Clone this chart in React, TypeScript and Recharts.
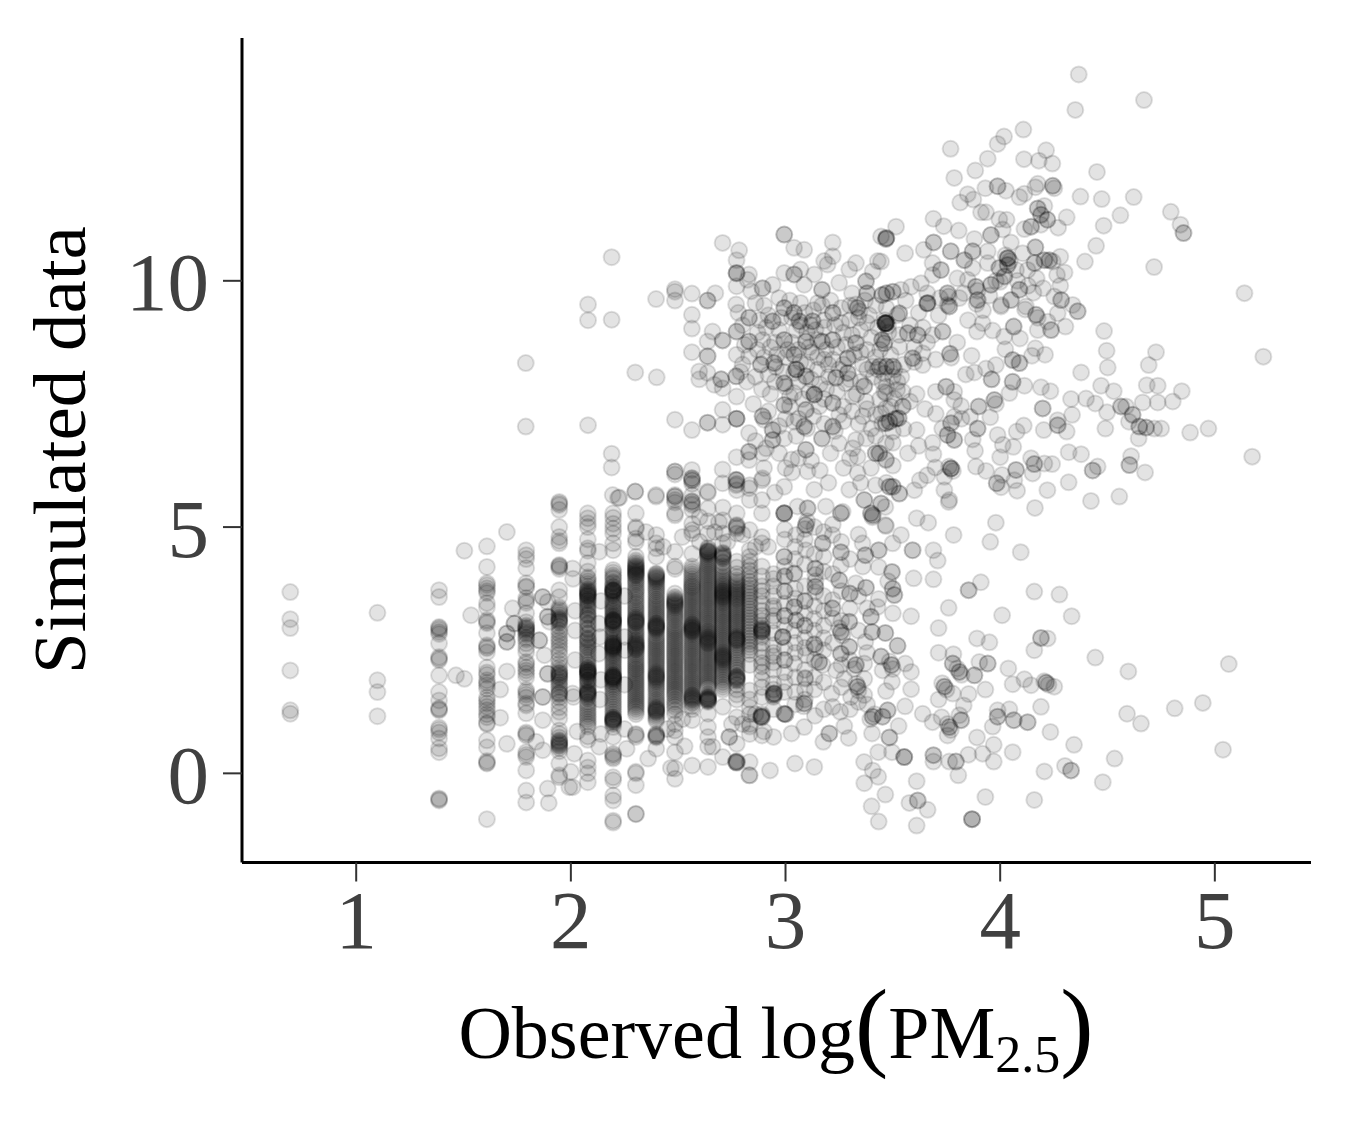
import { ScatterChart, Scatter, XAxis, YAxis } from 'recharts'

// observed values sit on log(count) columns at the low end, so these are kept per column
const col069 = [3.68, 3.13, 2.95, 2.09, 1.28, 1.21]
const col110 = [3.26, 1.89, 1.65, 1.16]
const col139 = [3.72, 3.58, 2.97, 2.95, 2.92, 2.87, 2.83, 2.64, 2.36, 2.33, 2.3, 1.99, 1.65, 1.48, 1.32, 1.3, 1.28, 0.93, 0.89, 0.83, 0.71, 0.51, 0.43, -0.51, -0.53, -0.55]
const col161 = [4.61, 4.19, 3.86, 3.82, 3.76, 3.7, 3.66, 3.46, 3.37, 3.11, 3.08, 3.05, 2.85, 2.6, 2.57, 2.54, 2.46, 2.15, 2.05, 2.0, 1.89, 1.84, 1.79, 1.72, 1.54, 1.48, 1.42, 1.35, 1.28, 1.2, 1.14, 1.02, 1.0, 0.67, 0.53, 0.25, 0.22, 0.2, -0.93]
const col179 = [4.53, 4.43, 4.35, 4.17, 3.86, 3.8, 3.78, 3.56, 3.5, 3.46, 3.25, 3.07, 3.0, 2.97, 2.95, 2.93, 2.91, 2.88, 2.85, 2.82, 2.76, 2.72, 2.64, 2.55, 2.46, 2.26, 2.22, 2.15, 2.09, 2.03, 1.95, 1.69, 1.65, 1.6, 1.54, 1.42, 1.38, 1.22, 0.83, 0.8, 0.77, 0.43, 0.38, 0.33, 0.06, -0.35, -0.59]
const col195 = [5.51, 5.48, 5.45, 5.35, 5.0, 4.8, 4.72, 4.67, 4.23, 4.21, 4.19, 4.15, 3.72, 3.58, 3.37, 3.33, 3.3, 3.26, 3.22, 3.17, 3.14, 3.12, 3.1, 3.08, 3.05, 2.98, 2.9, 2.84, 2.76, 2.7, 2.64, 2.57, 2.5, 2.42, 2.3, 2.22, 2.15, 2.09, 2.05, 2.03, 2.01, 1.98, 1.96, 1.94, 1.89, 1.85, 1.8, 1.75, 1.69, 1.64, 1.62, 1.6, 1.54, 1.45, 1.34, 1.25, 1.12, 0.87, 0.8, 0.73, 0.67, 0.65, 0.63, 0.61, 0.59, 0.57, 0.55, 0.51, 0.45, 0.2, -0.04, -0.08]
const col208 = [5.28, 5.18, 5.08, 5.0, 4.75, 4.57, 4.52, 4.27, 4.1, 3.98, 3.95, 3.9, 3.85, 3.8, 3.75, 3.72, 3.7, 3.68, 3.66, 3.64, 3.63, 3.61, 3.6, 3.58, 3.55, 3.52, 3.5, 3.46, 3.42, 3.38, 3.35, 3.3, 3.25, 3.22, 3.2, 3.15, 3.12, 3.05, 3.02, 2.95, 2.92, 2.85, 2.82, 2.75, 2.72, 2.7, 2.66, 2.62, 2.58, 2.55, 2.5, 2.46, 2.4, 2.35, 2.3, 2.25, 2.2, 2.15, 2.13, 2.11, 2.1, 2.08, 2.07, 2.06, 2.05, 2.03, 2.01, 2.0, 1.97, 1.95, 1.9, 1.88, 1.85, 1.8, 1.75, 1.71, 1.68, 1.66, 1.64, 1.63, 1.62, 1.6, 1.58, 1.55, 1.52, 1.45, 1.4, 1.35, 1.3, 1.25, 1.2, 1.15, 1.1, 1.05, 1.0, 0.95, 0.75, 0.68, 0.26, 0.12, 0, -0.18]
const col220 = [5.28, 5.19, 5.07, 4.97, 4.87, 4.67, 4.53, 4.13, 4.08, 4.02, 3.98, 3.95, 3.88, 3.85, 3.8, 3.78, 3.75, 3.73, 3.72, 3.71, 3.7, 3.69, 3.67, 3.65, 3.63, 3.6, 3.55, 3.5, 3.47, 3.43, 3.4, 3.36, 3.33, 3.3, 3.27, 3.23, 3.2, 3.17, 3.14, 3.12, 3.11, 3.1, 3.09, 3.08, 3.06, 3.05, 3.02, 3.0, 2.95, 2.92, 2.87, 2.83, 2.79, 2.75, 2.71, 2.68, 2.65, 2.64, 2.62, 2.6, 2.59, 2.58, 2.57, 2.55, 2.54, 2.52, 2.5, 2.47, 2.44, 2.41, 2.38, 2.34, 2.3, 2.26, 2.22, 2.18, 2.14, 2.1, 2.07, 2.03, 2.0, 1.99, 1.97, 1.96, 1.95, 1.94, 1.93, 1.91, 1.9, 1.87, 1.85, 1.81, 1.78, 1.74, 1.7, 1.65, 1.6, 1.55, 1.5, 1.45, 1.4, 1.35, 1.3, 1.25, 1.2, 1.15, 1.13, 1.11, 1.1, 1.09, 1.08, 1.07, 1.05, 1.03, 1.0, 0.94, 0.74, 0.4, 0.37, 0.33, 0.3, -0.08, -0.14, -0.45, -0.55, -0.96, -1.0]
const col230 = [5.28, 5.0, 4.97, 4.77, 4.7, 4.4, 4.32, 4.28, 4.25, 4.22, 4.2, 4.18, 4.16, 4.14, 4.12, 4.1, 4.08, 4.06, 4.04, 4.02, 4.0, 3.96, 3.92, 3.88, 3.84, 3.79, 3.74, 3.7, 3.66, 3.61, 3.57, 3.52, 3.47, 3.43, 3.38, 3.34, 3.3, 3.26, 3.22, 3.18, 3.15, 3.13, 3.11, 3.09, 3.08, 3.06, 3.04, 3.0, 2.97, 2.92, 2.88, 2.84, 2.8, 2.76, 2.72, 2.69, 2.66, 2.64, 2.62, 2.6, 2.58, 2.56, 2.54, 2.52, 2.5, 2.46, 2.42, 2.38, 2.33, 2.29, 2.25, 2.21, 2.17, 2.13, 2.1, 2.06, 2.02, 1.98, 1.94, 1.9, 1.86, 1.82, 1.78, 1.74, 1.7, 1.66, 1.62, 1.58, 1.54, 1.5, 1.46, 1.42, 1.38, 1.34, 1.3, 1.25, 1.2, 0.8, 0.78, 0.74, 0.03, 0, -0.24, -0.82, -0.83]
const col240 = [4.84, 4.67, 4.57, 4.4, 4.06, 4.04, 4.02, 4.0, 3.98, 3.96, 3.94, 3.91, 3.88, 3.84, 3.8, 3.76, 3.72, 3.68, 3.63, 3.59, 3.54, 3.5, 3.46, 3.42, 3.38, 3.34, 3.3, 3.26, 3.22, 3.18, 3.14, 3.1, 3.06, 3.04, 3.02, 3.0, 2.99, 2.97, 2.96, 2.94, 2.92, 2.89, 2.85, 2.8, 2.76, 2.72, 2.68, 2.64, 2.6, 2.56, 2.52, 2.48, 2.44, 2.4, 2.36, 2.32, 2.28, 2.24, 2.2, 2.16, 2.12, 2.08, 2.05, 2.02, 2.0, 1.98, 1.96, 1.94, 1.92, 1.89, 1.86, 1.82, 1.78, 1.74, 1.7, 1.65, 1.6, 1.55, 1.5, 1.46, 1.42, 1.38, 1.34, 1.32, 1.3, 1.28, 1.27, 1.25, 1.23, 1.19, 1.15, 1.11, 1.07, 0.8, 0.78, 0.76, 0.75, 0.73, 0.5]
const col248 = [5.65, 5.55, 5.28, 5.24, 4.5, 4.2, 4.15, 3.65, 3.58, 3.55, 3.52, 3.5, 3.48, 3.46, 3.44, 3.42, 3.4, 3.37, 3.34, 3.3, 3.26, 3.22, 3.18, 3.14, 3.1, 3.05, 3.0, 2.96, 2.92, 2.88, 2.84, 2.8, 2.76, 2.72, 2.68, 2.64, 2.6, 2.56, 2.52, 2.48, 2.44, 2.4, 2.36, 2.32, 2.28, 2.24, 2.2, 2.16, 2.12, 2.08, 2.04, 2.0, 1.96, 1.92, 1.88, 1.84, 1.8, 1.76, 1.72, 1.68, 1.64, 1.6, 1.56, 1.5, 1.45, 1.4, 1.35, 1.28, 1.2, 1.0, 0.87, 0.74, 0.43, 0.1, -0.11]
const col257 = [5.95, 5.88, 5.65, 5.48, 5.35, 5.07, 4.94, 4.87, 4.46, 4.2, 4.15, 4.1, 4.05, 4.0, 3.95, 3.9, 3.86, 3.82, 3.79, 3.76, 3.72, 3.68, 3.64, 3.6, 3.56, 3.52, 3.48, 3.44, 3.4, 3.36, 3.32, 3.28, 3.24, 3.2, 3.16, 3.12, 3.08, 3.04, 3.02, 3.0, 2.98, 2.96, 2.95, 2.93, 2.91, 2.9, 2.88, 2.86, 2.83, 2.8, 2.76, 2.72, 2.68, 2.64, 2.6, 2.56, 2.52, 2.48, 2.44, 2.4, 2.36, 2.32, 2.28, 2.24, 2.2, 2.16, 2.12, 2.08, 2.04, 2.0, 1.96, 1.92, 1.88, 1.84, 1.8, 1.76, 1.72, 1.68, 1.64, 1.6, 1.58, 1.56, 1.54, 1.52, 1.5, 1.48, 1.45, 1.42, 1.36, 1.3, 1.08, 0.16]
const col264 = [5.7, 5.38, 5.12, 4.87, 4.58, 4.55, 4.52, 4.51, 4.5, 4.49, 4.47, 4.45, 4.42, 4.38, 4.34, 4.3, 4.26, 4.22, 4.18, 4.14, 4.1, 4.06, 4.02, 3.98, 3.94, 3.9, 3.86, 3.82, 3.78, 3.74, 3.7, 3.66, 3.62, 3.58, 3.54, 3.5, 3.46, 3.42, 3.38, 3.34, 3.3, 3.26, 3.22, 3.18, 3.14, 3.1, 3.06, 3.02, 2.98, 2.94, 2.9, 2.87, 2.84, 2.81, 2.78, 2.76, 2.74, 2.72, 2.7, 2.68, 2.66, 2.64, 2.62, 2.58, 2.54, 2.5, 2.46, 2.42, 2.38, 2.34, 2.3, 2.26, 2.22, 2.18, 2.14, 2.1, 2.06, 2.02, 1.98, 1.94, 1.9, 1.86, 1.82, 1.78, 1.74, 1.6, 1.56, 1.55, 1.53, 1.52, 1.51, 1.5, 1.49, 1.48, 1.47, 1.45, 1.21, 0.94, 0.74, 0.54, 0.13]
const col271 = [5.4, 5.14, 4.87, 4.67, 4.48, 4.46, 4.44, 4.42, 4.4, 4.38, 4.36, 4.28, 4.2, 4.15, 4.1, 4.05, 4.0, 3.96, 3.92, 3.88, 3.84, 3.81, 3.78, 3.75, 3.72, 3.7, 3.68, 3.66, 3.64, 3.62, 3.6, 3.58, 3.56, 3.53, 3.5, 3.47, 3.44, 3.4, 3.36, 3.32, 3.28, 3.24, 3.2, 3.16, 3.12, 3.08, 3.04, 3.0, 2.96, 2.92, 2.88, 2.84, 2.8, 2.76, 2.72, 2.68, 2.64, 2.6, 2.56, 2.52, 2.48, 2.45, 2.42, 2.4, 2.38, 2.36, 2.34, 2.32, 2.3, 2.27, 2.24, 2.2, 2.16, 2.12, 2.08, 2.04, 2.0, 1.95, 1.9, 1.85, 1.8, 1.75, 1.7, 1.35, 0.33]
const col277 = [5.95, 5.88, 5.75, 5.28, 5.04, 5.02, 5.0, 4.97, 4.87, 4.3, 4.18, 4.05, 3.98, 3.92, 3.88, 3.84, 3.8, 3.76, 3.73, 3.7, 3.67, 3.64, 3.61, 3.58, 3.55, 3.52, 3.48, 3.44, 3.4, 3.36, 3.32, 3.28, 3.24, 3.2, 3.16, 3.12, 3.08, 3.04, 3.0, 2.96, 2.92, 2.88, 2.84, 2.8, 2.77, 2.75, 2.73, 2.72, 2.7, 2.68, 2.64, 2.6, 2.55, 2.5, 2.45, 2.4, 2.35, 2.3, 2.25, 2.2, 2.15, 2.1, 2.04, 1.98, 1.96, 1.95, 1.93, 1.92, 1.9, 1.88, 1.8, 1.7, 1.6, 1.5, 1.14, 0.6, 0.25, 0.23, 0.21]
const col283 = [5.85, 5.55, 4.94, 4.53, 4.4, 4.3, 4.2, 4.12, 4.04, 3.96, 3.89, 3.82, 3.76, 3.7, 3.64, 3.58, 3.52, 3.46, 3.4, 3.34, 3.28, 3.22, 3.16, 3.1, 3.04, 2.98, 2.92, 2.86, 2.8, 2.74, 2.68, 2.62, 2.56, 2.5, 2.42, 2.2, 1.68, 1.5, 1.34, 1.2, 1.0, 0.95, 0.8, 0.23, -0.04]
const col289 = [5.95, 5.55, 5.28, 4.8, 4.67, 4.2, 4.0, 3.8, 3.7, 3.6, 3.45, 3.3, 3.2, 3.1, 3.0, 2.95, 2.93, 2.91, 2.9, 2.88, 2.87, 2.82, 2.77, 2.64, 2.5, 2.35, 2.24, 2.17, 2.05, 1.9, 1.75, 1.55, 1.2, 1.17, 1.15, 1.13, 0.77]
const col294 = [4.05, 3.95, 3.8, 3.6, 3.4, 3.35, 3.2, 3.1, 2.85, 2.6, 2.45, 2.38, 2.25, 2.1, 1.82, 1.7, 1.62, 1.6, 1.58, 1.55, 1.3, 0.74]

// everything off those columns: [observed, simulated] or [observed, simulated, repeats]
const sparseLeft = [
  [1.504, 4.52], [1.702, 4.9], [1.535, 3.21], [1.465, 1.99], [1.504, 1.92], [1.729, 3.35], [1.737, 3.04, 2], [1.702, 2.84, 2],
  [1.702, 2.67, 2], [1.702, 2.07], [1.671, 1.7], [1.671, 1.13], [1.702, 0.6], [1.869, 3.58, 2], [1.892, 3.48], [1.892, 3.18, 2],
  [1.9, 3.08], [1.853, 2.7, 2], [1.877, 2.4], [1.892, 2.02, 2], [1.869, 1.55, 2], [1.869, 1.08], [1.838, 0.64], [1.869, 0.47],
  [1.892, -0.31], [1.897, -0.6], [1.993, -0.28], [2.008, 4.16], [2.01, 3.95], [2.132, 4.5], [2.226, 5.6], [2.195, 5.65],
  [2.3, 5.72], [2.397, 5.65], [2.008, 1.62], [2.012, 1.55], [2.132, 0.54], [2.016, 0.4], [2.0, 0.03], [2.008, -0.28],
  [2.13, 3.04], [2.135, 2.77], [2.13, 2.43], [2.14, 3.5], [2.14, 1.9], [2.135, 1.5], [2.25, 2.77], [2.252, 2.5], [2.25, 3.6],
  [2.25, 1.8], [2.25, 0.9], [2.14, 0.8], [2.26, 0.5], [2.02, 3.3], [2.02, 2.9], [2.02, 2.3], [2.03, 0.85],
  [2.466, 0.11], [2.36, 0.3], [2.35, 4.9], [2.43, 4.6], [2.45, 0.9], [2.52, 4.8], [2.53, 0.55], [2.52, 1.1],
  [2.66, 0.54], [2.738, 0.74, 2], [2.769, 0.23, 2], [2.831, -0.04], [2.928, 0.06], [3.092, 1.92], [3.0, 1.2, 2], [2.948, 1.62, 2], [2.886, 1.15, 2],
  [2.6, 5.2], [2.6, 4.7], [2.67, 4.9], [2.69, 5.1], [2.73, 4.7], [2.8, 4.85], [2.86, 4.6], [2.92, 4.6], [2.86, 1.2], [2.8, 1.0], [2.75, 1.0], [2.9, 0.85],
]

const lowerMiddle = [
  [3.76, 5.51], [3.954, 4.7], [3.783, 4.84], [4.096, 4.49], [3.538, 4.84], [3.468, 5.02], [3.406, 5.24, 2], [3.499, 4.67],
  [3.592, 4.53, 2], [3.689, 4.53], [3.709, 4.32], [3.597, 3.96], [3.689, 3.94], [3.91, 3.88], [3.853, 3.72, 2],
  [3.585, 3.19], [3.713, 2.95], [3.76, 3.36], [3.478, 3.9], [3.36, 4.2], [3.5, 3.25],
  [3.255, 1.25], [3.274, 0.96], [3.204, 0.81, 2], [3.176, 0.64], [3.294, 0.72], [3.044, 0.2], [3.134, 0.13], [3.087, 0.94], [3.028, 0.81],
  [3.137, 1.17], [3.087, 1.42, 2], [3.09, 1.5], [3.085, 1.36], [2.994, 1.21, 2], [3.215, 1.62], [2.994, 1.65], [3.091, 1.94], [3.336, 1.76, 2], [3.34, 1.68], [3.33, 1.82], [3.367, 1.59], [3.305, 1.55],
  [3.468, 1.67], [3.585, 1.71], [3.558, 2.23], [3.585, 2.06], [3.496, 1.86], [3.494, 2.2, 2], [3.485, 2.27], [3.5, 2.12], [3.445, 2.37, 2], [3.452, 2.09], [3.328, 2.2, 2], [3.32, 2.12],
  [3.367, 2.23], [3.235, 2.09], [3.274, 1.92], [3.367, 1.92], [3.173, 2.2], [3.041, 2.23], [3.095, 2.4], [3.157, 2.26, 2], [3.258, 2.43, 2],
  [3.297, 2.57, 2], [3.522, 2.59, 2], [3.372, 2.67], [3.134, 2.62, 2], [3.14, 2.55], [3.258, 2.87, 2], [3.25, 2.95], [3.265, 2.8], [3.465, 2.85, 2], [3.403, 2.87, 2], [3.398, 3.18, 2],
  [3.297, 3.08, 2], [3.219, 3.35, 2], [3.219, 3.52], [3.429, 3.38], [3.507, 3.62, 2], [3.499, 3.75, 2], [3.434, 3.54], [3.375, 3.77, 2],
  [3.3, 3.65, 2], [3.25, 3.92, 2], [3.328, 3.86], [3.496, 4.09, 2], [3.434, 4.19], [3.258, 4.49, 2], [3.359, 4.67], [3.372, 4.43, 2],
  [3.434, 4.53, 2], [3.258, 4.23], [3.173, 4.67, 2], [3.219, 4.84], [3.139, 4.16, 2], [3.139, 4.03], [3.139, 3.79, 2], [3.139, 3.68], [3.139, 3.9], [3.041, 3.38, 2], [3.049, 3.11, 2],
  [3.134, 3.14], [3.041, 4.06, 2], [3.095, 5.04, 2], [3.1, 5.12], [3.09, 4.96], [2.994, 5.28, 2], [3.258, 5.28, 2], [3.049, 4.84], [3.095, 4.53], [2.994, 4.4, 2],
  [2.987, 2.77, 3], [3.041, 2.9], [2.996, 3.7, 2], [2.996, 3.2, 2], [2.996, 2.3, 2], [2.996, 4.0, 2], [3.09, 3.5, 2], [3.09, 3.0, 2], [3.09, 2.1],
  [3.178, 3.0], [3.178, 3.6], [3.178, 4.1], [3.178, 1.3], [3.045, 1.65], [3.045, 1.4], [3.135, 1.7], [3.135, 1.95], [3.135, 4.45],
  [2.996, 3.45], [2.996, 3.0], [2.996, 2.55], [2.996, 2.05], [2.996, 1.85], [2.996, 4.2], [2.996, 4.75], [2.996, 4.95], [3.045, 3.75], [3.045, 3.55], [3.045, 2.65], [3.045, 2.45],
  [3.045, 1.95], [3.045, 4.35], [3.045, 4.6], [3.09, 3.8], [3.09, 3.25], [3.09, 2.75], [3.09, 2.55], [3.09, 1.7], [3.09, 4.25], [3.09, 4.75], [3.135, 3.4], [3.135, 2.9], [3.135, 2.3],
  [3.135, 5.0], [3.178, 3.3], [3.178, 2.75], [3.178, 2.5], [3.178, 1.85], [3.178, 4.4], [3.178, 4.9], [3.22, 4.05], [3.22, 3.15], [3.22, 2.65], [3.22, 1.35], [3.22, 5.05],
  [3.26, 3.7], [3.26, 3.1], [3.26, 2.2], [3.26, 1.75], [3.26, 4.7], [3.3, 4.35], [3.3, 3.35], [3.3, 2.3], [3.3, 1.3], [3.34, 3.6], [3.34, 2.9], [3.34, 1.45], [3.34, 4.85], [3.38, 3.35], [3.38, 2.45], [3.38, 1.4],
]

const lowerRight = [
  [4.159, 3.69], [4.276, 3.63], [4.333, 3.19], [4.009, 3.21], [3.892, 2.74], [3.95, 2.66], [4.19, 2.75, 2], [4.221, 2.74], [4.159, 2.5],
  [4.443, 2.35], [4.597, 2.07], [5.065, 2.22], [4.813, 1.32], [4.944, 1.43], [4.591, 1.21], [4.656, 1.01], [5.038, 0.48], [3.713, 2.45],
  [3.782, 2.42], [3.779, 2.23, 2], [3.81, 2.06, 2], [3.82, 2.0], [3.8, 2.13], [3.88, 1.99, 2], [3.942, 2.23, 2], [3.903, 2.26], [4.038, 2.13], [4.113, 1.91], [4.058, 1.81],
  [4.144, 1.79], [4.214, 1.84, 2], [4.225, 1.8], [4.205, 1.87], [4.252, 1.76], [3.931, 1.7], [3.74, 1.76, 2], [3.75, 1.7], [3.73, 1.83], [3.779, 1.62], [3.853, 1.61], [3.713, 1.5], [3.83, 1.38],
  [4.19, 1.35], [4.043, 1.3], [3.988, 1.28], [3.988, 1.15, 2], [4.063, 1.08, 2], [4.128, 1.04, 2], [3.965, 0.95], [4.234, 0.84], [3.892, 0.73],
  [4.344, 0.58], [3.97, 0.58], [4.058, 0.43], [3.918, 0.4], [3.852, 0.38], [3.97, 0.24], [4.533, 0.3], [4.302, 0.15], [4.33, 0.06, 2], [4.206, 0.04],
  [4.478, -0.18], [3.805, -0.04], [3.794, 0.24, 2], [3.763, 0.24], [3.689, 0.37, 2], [3.689, 0.24], [3.931, -0.48], [4.159, -0.54], [3.869, -0.93, 3],
  [3.639, 1.21], [3.685, 1.04], [3.727, 1.14], [3.763, 0.94, 2], [3.77, 0.88], [3.755, 1.0], [3.818, 1.08, 2], [3.81, 1.18], [3.755, 0.77], [3.557, 1.36], [3.476, 1.28, 2],
  [3.406, 1.15, 2], [3.415, 1.2], [3.395, 1.1], [3.452, 1.15, 2], [3.527, 0.96], [3.403, 0.81], [3.484, 0.73, 2], [3.432, 0.43], [3.496, 0.43], [3.553, 0.33, 3], [3.366, 0.23],
  [3.406, 0.06], [3.432, -0.07], [3.367, -0.2], [3.611, -0.16], [3.465, -0.43], [3.616, -0.55, 2], [3.577, -0.6], [3.662, -0.74], [3.401, -0.67],
  [3.434, -0.98], [3.611, -1.06],
]

const upperMiddle = [
  [2.19, 10.48], [2.08, 9.52], [2.08, 9.2], [2.19, 9.21], [1.79, 8.33], [2.3, 8.14], [2.4, 8.04], [1.79, 7.04], [2.08, 7.07], [2.19, 6.49], [2.19, 6.21],
  [2.485, 9.83], [2.485, 9.78], [2.485, 9.6], [2.397, 9.63], [2.564, 9.74], [2.637, 9.6, 2], [2.673, 9.75], [2.564, 9.31], [2.564, 9.03], [2.564, 8.55],
  [2.637, 8.77], [2.637, 8.47, 2], [2.66, 8.97], [2.707, 8.79, 2], [2.598, 8.16], [2.598, 8.0], [2.637, 8.13], [2.7, 8.0, 2], [2.668, 7.89], [2.707, 7.82],
  [2.77, 8.06, 2], [2.485, 7.18], [2.564, 6.97], [2.637, 7.12, 2], [2.707, 7.08], [2.707, 7.38], [2.772, 7.2, 3], [2.772, 7.65], [2.83, 6.91], [2.772, 6.42],
  [2.83, 6.53, 2], [2.83, 6.36], [2.893, 6.5], [2.707, 6.17], [2.485, 6.13, 2], [2.485, 6.07], [2.564, 6.16], [2.564, 5.99, 2], [2.564, 5.95],
  [2.30, 5.72], [2.22, 5.59], [2.397, 5.62], [2.485, 5.62, 2], [2.485, 5.5], [2.564, 5.52, 2], [2.564, 5.45], [2.637, 5.72], [2.707, 5.89], [2.77, 5.96, 2], [2.77, 5.85],
  [2.83, 5.79], [2.893, 5.99], [2.707, 10.77], [2.784, 10.62], [2.772, 10.42], [2.772, 10.16, 2], [2.772, 10.15], [2.83, 10.13], [2.823, 10.02],
  [2.772, 9.89], [2.84, 9.79], [2.893, 9.85, 2], [2.94, 9.92], [2.994, 10.16], [3.04, 10.67], [3.087, 10.63], [2.994, 10.94, 2], [3.22, 10.78], [3.18, 10.4],
  [3.22, 10.5], [3.196, 10.33], [3.328, 10.36], [3.43, 10.4], [3.47, 10.87, 2], [3.297, 10.23], [3.406, 10.19], [3.04, 10.13, 2], [3.07, 10.23], [3.134, 10.13],
  [3.087, 9.92], [3.17, 9.82, 2], [3.25, 9.96], [3.375, 9.99, 2], [3.38, 9.75, 2], [3.31, 9.75], [3.47, 9.75, 2], [2.83, 9.25, 2], [2.77, 9.52], [2.772, 8.97, 2],
  [2.83, 8.77, 2], [2.893, 8.8], [2.772, 8.5], [2.83, 8.47], [2.885, 8.3, 2], [2.947, 8.33, 2], [2.955, 8.25], [2.994, 9.45, 2], [2.94, 9.18, 2], [3.04, 9.35, 2], [3.064, 9.18, 2], [3.072, 9.1],
  [3.126, 9.18, 2], [3.118, 9.1], [2.994, 8.8, 2], [3.095, 8.77, 2], [3.22, 9.35, 2], [3.336, 9.45, 2], [3.345, 9.38], [3.327, 9.52], [3.47, 9.14, 3], [3.462, 9.2], [3.478, 9.08], [3.22, 8.8, 2], [3.17, 8.77, 2], [3.328, 8.74, 2],
  [3.29, 8.43, 2], [3.29, 8.13, 2], [3.04, 8.5, 2], [3.05, 8.2, 3], [3.04, 8.13], [2.994, 7.92, 2], [3.0, 7.85], [3.095, 8.06, 2], [3.134, 7.69, 3], [3.235, 8.03, 2], [3.367, 7.86, 2],
  [2.994, 7.48, 2], [3.095, 7.38, 2], [2.893, 7.25, 2], [2.9, 7.18], [3.17, 6.8, 2], [3.22, 7.04, 2], [3.095, 6.57, 2], [3.42, 6.5, 2], [3.45, 8.8, 2], [3.47, 8.26, 2],
  [3.406, 8.26], [2.994, 5.82], [3.134, 5.76], [3.028, 6.37], [3.03, 6.11], [3.103, 6.13], [3.336, 6.43], [3.313, 6.6], [3.375, 6.8], [3.328, 6.77], [3.398, 6.2],
  [3.336, 6.1], [3.297, 5.76], [3.468, 6.37], [3.367, 5.55, 2], [3.398, 5.28, 2], [3.405, 5.2], [2.994, 5.28, 2], [3.056, 5.42], [3.103, 5.38, 2], [3.188, 5.42], [3.266, 5.31],
  [3.468, 6.7], [3.5, 5.82, 2], [3.22, 7.52, 2], [3.25, 7.28], [3.36, 7.25], [3.42, 7.28], [3.468, 7.11, 2], [3.514, 7.2, 2], [3.313, 7.65], [3.375, 7.55], [3.468, 7.72],
  [3.52, 7.79], [3.04, 7.72], [3.28, 7.92], [2.94, 6.97, 2], [2.94, 6.77, 2], [2.994, 6.8], [3.04, 7.14], [3.087, 7.04, 2], [3.157, 7.45], [2.9, 9.5], [2.95, 8.75],
  [3.0, 8.45], [3.15, 8.45], [3.2, 8.3], [3.12, 8.55], [3.18, 9.05], [3.26, 9.15], [3.3, 9.5], [3.38, 9.15], [3.42, 8.45], [3.38, 8.2], [3.15, 9.55], [2.87, 8.95], [3.35, 8.55],
  [2.93, 7.7], [2.85, 7.5], [3.0, 7.2], [3.18, 7.6], [3.27, 7.45], [3.3, 6.4], [3.4, 7.0], [3.05, 6.85], [2.9, 6.2], [2.95, 5.7], [3.2, 5.9], [3.25, 6.7], [3.47, 5.9], [3.44, 7.6],
]

// the busy middle of the upper cloud
const upperCore = [
  [2.78, 9.35], [2.8, 9.1], [2.81, 8.7], [2.8, 8.3], [2.79, 8.15], [2.82, 7.95], [2.86, 9.55], [2.88, 9.2], [2.87, 8.6], [2.9, 8.45], [2.86, 8.05], [2.89, 7.8], [2.92, 9.3], [2.91, 9.05],
  [2.93, 8.65], [2.96, 8.5], [2.92, 8.1], [2.95, 7.95], [2.97, 9.65], [2.98, 9.25], [2.97, 9.0], [3.01, 8.6], [2.99, 8.15], [3.02, 7.65], [3.02, 9.6], [3.03, 9.25], [3.05, 9.0], [3.03, 8.75],
  [3.06, 8.6], [3.07, 8.35], [3.06, 7.95], [3.08, 7.6], [3.07, 9.55], [3.09, 9.35], [3.1, 8.95], [3.11, 8.65], [3.1, 8.3], [3.12, 8.0], [3.11, 7.75], [3.13, 9.4], [3.14, 9.0], [3.15, 8.8], [3.15, 8.2],
  [3.16, 7.9], [3.17, 9.5], [3.18, 9.2], [3.19, 8.6], [3.18, 8.4], [3.2, 8.05], [3.19, 7.8], [3.21, 9.6], [3.23, 9.1], [3.24, 8.65], [3.22, 8.4], [3.25, 8.2], [3.24, 7.75], [3.26, 9.45], [3.27, 8.95],
  [3.28, 8.7], [3.27, 8.3], [3.3, 9.2], [3.31, 8.9], [3.32, 8.5], [3.3, 8.0], [3.33, 7.7], [3.34, 9.25], [3.35, 9.0], [3.36, 8.3], [3.35, 7.95], [3.37, 9.6], [3.39, 9.3], [3.4, 8.85], [3.38, 8.6],
  [3.41, 8.05], [3.42, 9.5], [3.43, 9.05], [3.44, 8.6], [3.43, 8.2], [3.45, 7.95], [3.47, 9.45], [3.48, 8.95], [3.49, 8.5], [3.5, 8.05], [3.47, 7.85], [3.52, 9.3], [3.53, 8.9], [3.55, 8.3], [3.54, 8.05],
  [3.56, 9.6], [3.58, 9.1], [3.6, 8.65], [3.62, 9.35], [3.64, 9.05], [3.66, 8.75], [3.7, 8.4], [3.72, 9.65], [2.92, 7.35], [2.97, 7.05], [3.02, 7.45], [3.06, 7.2], [3.1, 7.0], [3.13, 7.25], [3.18, 7.1],
  [3.23, 6.95], [3.27, 7.15], [3.31, 7.35], [3.34, 7.1], [3.38, 7.4], [3.42, 6.85], [3.45, 7.1], [3.49, 7.45], [3.55, 7.0], [3.58, 7.55], [2.86, 6.75], [2.91, 6.6], [2.97, 6.5], [3.0, 6.2], [3.06, 6.4],
  [3.12, 6.35], [3.16, 6.15], [3.21, 6.5], [3.27, 6.2], [3.35, 5.9], [3.42, 5.85], [3.5, 6.25], [3.57, 6.5], [3.62, 6.65], [3.66, 6.05], [3.7, 7.3], [3.73, 7.0], [3.65, 7.4], [3.7, 7.75], [3.82, 7.2], [3.84, 8.1],
  [3.8, 8.75], [3.85, 9.2], [3.83, 9.75], [3.8, 10.05], [3.92, 9.4], [3.95, 9.7], [3.98, 10.0], [4.08, 10.0], [4.13, 9.9], [4.2, 9.85], [4.17, 10.05], [4.28, 9.9],
]

const upperRight = [
  [4.366, 14.19], [4.35, 13.47], [4.67, 13.67], [4.108, 13.07], [4.018, 12.93], [3.988, 12.78], [3.769, 12.68], [4.214, 12.65], [3.942, 12.48], [4.111, 12.47],
  [4.18, 12.44], [4.243, 12.38], [3.884, 12.24], [3.786, 12.09], [4.451, 12.21], [3.931, 11.88], [3.988, 11.92, 2], [4.027, 11.83], [4.175, 11.97], [4.164, 11.9],
  [4.245, 11.93, 2], [4.252, 11.88], [4.113, 11.77], [4.09, 11.7], [3.849, 11.76], [3.814, 11.59], [3.875, 11.65], [4.374, 11.71], [4.473, 11.66], [4.622, 11.7],
  [3.911, 11.39], [3.934, 11.39], [4.175, 11.47, 2], [4.206, 11.52], [4.19, 11.34, 2], [4.31, 11.29], [4.56, 11.33], [4.795, 11.4], [4.84, 11.14], [4.854, 10.97, 2],
  [3.689, 11.26], [3.737, 11.11], [3.515, 11.1], [3.807, 11.02], [3.996, 11.25], [4.03, 11.24], [4.012, 11.04], [4.113, 11.05], [4.144, 11.1, 2], [4.22, 11.24, 2],
  [4.19, 11.14], [4.27, 11.08], [4.482, 11.12], [3.468, 10.85, 2], [3.445, 10.9], [3.88, 10.85], [3.957, 10.93, 2], [4.05, 10.78], [3.69, 10.78, 2], [3.644, 10.63],
  [3.557, 10.56], [3.445, 10.39], [4.447, 10.71], [4.395, 10.39], [4.717, 10.28], [5.138, 9.75], [4.164, 10.68, 2], [4.28, 10.49], [4.265, 10.12], [4.3, 10.17],
  [4.206, 10.42, 2], [4.229, 10.42, 2], [4.245, 10.39], [4.105, 10.56], [4.16, 10.36, 2], [4.128, 10.22], [4.035, 10.46, 3], [4.045, 10.4], [4.025, 10.52], [4.035, 10.32, 2], [3.996, 10.26, 2],
  [4.074, 10.22], [4.02, 10.09, 2], [3.872, 10.6, 2], [3.833, 10.42, 2], [3.942, 10.6], [3.942, 10.36], [3.872, 10.26], [3.77, 10.6, 2], [3.685, 10.36], [3.724, 10.22, 2],
  [3.685, 10.12], [3.849, 10.02], [3.887, 9.88, 2], [3.895, 9.8], [3.957, 9.92, 2], [4.09, 9.82, 2], [4.155, 9.76], [4.0, 9.98], [3.631, 9.95], [3.585, 9.88], [3.538, 9.82], [3.5, 9.78, 2],
  [3.45, 9.71, 2], [3.66, 9.75], [3.66, 9.54, 2], [3.755, 9.75, 2], [3.76, 9.68], [3.81, 9.65], [3.895, 9.61, 2], [3.89, 9.53], [4.252, 9.68], [4.284, 9.61, 2], [4.338, 9.51], [4.05, 9.61, 2], [4.004, 9.51],
  [4.12, 9.48], [3.755, 9.51], [5.226, 8.46], [5.174, 6.43], [4.484, 8.98], [4.496, 8.58], [4.501, 8.24], [4.726, 8.55], [4.692, 8.29], [4.377, 8.14], [4.683, 7.88], [4.734, 7.87],
  [4.846, 7.76], [4.804, 7.55], [4.734, 7.53], [4.664, 7.53], [4.47, 7.87], [4.529, 7.76], [4.33, 7.6], [4.4, 7.61], [4.443, 7.51], [4.498, 7.33], [4.563, 7.45, 2], [4.586, 7.45],
  [4.617, 7.28, 2], [4.6, 7.14], [4.335, 7.28], [4.268, 7.17], [4.268, 7.07, 2], [4.203, 6.97], [4.31, 6.94], [4.49, 7.0], [4.648, 7.04, 2], [4.68, 7.02, 2], [4.718, 7.0], [4.75, 7.0],
  [4.885, 6.92], [4.97, 7.0], [4.645, 6.8], [4.319, 6.52], [4.377, 6.48], [4.61, 6.44], [4.602, 6.26, 2], [4.454, 6.23], [4.431, 6.15, 2], [4.675, 6.11], [4.144, 6.4], [4.159, 6.28, 2],
  [4.206, 6.29], [4.242, 6.28], [4.151, 6.09], [4.074, 6.16, 2], [4.066, 5.95], [4.009, 6.06], [3.984, 5.89, 2], [4.004, 5.81], [4.079, 5.74], [4.22, 5.75], [4.319, 5.91], [4.423, 5.53],
  [4.555, 5.62], [4.162, 5.39], [3.98, 5.09], [3.771, 6.19, 3], [3.78, 6.14], [3.762, 6.23], [3.74, 6.02], [3.698, 6.21], [3.887, 6.23], [3.934, 6.14], [3.626, 5.95], [3.6, 5.75], [3.484, 5.82, 2], [3.53, 5.68, 2],
  [3.74, 5.75], [3.763, 5.55], [3.611, 5.18], [3.665, 5.09], [3.445, 5.48, 2], [3.465, 5.41], [3.465, 5.04], [3.685, 6.71], [3.689, 6.48], [3.786, 6.77, 2], [3.755, 6.87, 2], [3.771, 7.11, 2],
  [3.786, 7.24], [3.895, 7.0, 2], [3.872, 6.78], [3.883, 6.55], [3.988, 6.87], [4.012, 6.67], [4.061, 6.63], [4.0, 6.42], [4.077, 6.94], [4.11, 7.06], [3.86, 7.24], [3.954, 7.23], [3.9, 7.45, 2],
  [3.973, 7.58, 2], [3.98, 7.5], [4.043, 7.72], [4.058, 7.95, 2], [3.96, 8.0, 2], [4.113, 7.87], [4.19, 7.84], [4.234, 7.76], [4.198, 7.41, 2], [3.88, 8.14], [3.934, 8.22], [3.98, 8.29], [3.867, 8.48],
  [4.024, 8.61], [4.058, 8.39, 2], [4.09, 8.33, 2], [4.148, 8.48], [4.209, 8.5], [4.164, 8.63], [3.766, 8.52, 2], [3.772, 8.44], [3.748, 7.85, 2], [3.786, 7.75], [3.818, 7.46], [3.786, 7.58], [3.611, 7.7],
  [3.611, 6.97], [3.5, 6.71], [3.468, 6.36], [3.437, 6.5, 2], [3.507, 7.61], [3.546, 7.45, 2], [3.527, 7.21, 2], [3.468, 7.41], [3.46, 7.75], [3.546, 7.75], [3.522, 7.95], [3.484, 7.14, 2],
  [3.5, 6.94], [3.445, 7.31], [3.892, 8.97], [3.918, 9.14], [3.965, 8.99], [4.019, 8.87], [4.063, 9.07, 2], [4.092, 8.83], [4.004, 9.48], [4.116, 9.42], [4.167, 9.31, 2], [4.175, 9.25], [4.221, 9.17],
  [4.175, 9.0], [4.237, 9.0, 2], [4.304, 9.07], [4.268, 9.34], [4.361, 9.38, 2], [3.763, 9.48, 2], [3.662, 9.55, 2], [3.713, 9.3], [3.732, 8.97, 2], [3.685, 8.9], [3.465, 9.14, 5],
  [3.569, 8.94, 2], [3.616, 8.9, 2], [3.46, 8.73, 2], [3.53, 8.66], [3.592, 8.43, 2], [3.6, 8.35], [3.639, 8.29], [3.5, 8.26, 2], [3.508, 8.2], [3.437, 8.26, 2], [3.46, 8.12], [3.639, 8.53], [3.53, 9.34, 2],
]

const logColumns = [
  { x: 0.693, values: col069 }, { x: 1.099, values: col110 }, { x: 1.386, values: col139 }, { x: 1.609, values: col161 },
  { x: 1.792, values: col179 }, { x: 1.946, values: col195 }, { x: 2.079, values: col208 }, { x: 2.197, values: col220 },
  { x: 2.303, values: col230 }, { x: 2.398, values: col240 }, { x: 2.485, values: col248 }, { x: 2.565, values: col257 },
  { x: 2.639, values: col264 }, { x: 2.708, values: col271 }, { x: 2.773, values: col277 }, { x: 2.833, values: col283 },
  { x: 2.89, values: col289 }, { x: 2.944, values: col294 },
]

const xTicks = [1, 2, 3, 4, 5]
const yTicks = [0, 5, 10]

const points: { x: number; y: number }[] = []
logColumns.forEach((c) => c.values.forEach((y) => points.push({ x: c.x, y })))
;[sparseLeft, lowerMiddle, lowerRight, upperMiddle, upperCore, upperRight].forEach((group) =>
  group.forEach(([x, y, n = 1]) => {
    for (let i = 0; i < n; i++) points.push({ x, y })
  })
)

const serif = '"Liberation Serif", serif'
const tickFont = { fontFamily: serif, fontSize: 83, fill: '#404040' }

function Dot({ cx, cy }: any) {
  return <circle cx={cx} cy={cy} r={8} fill="#000" fillOpacity={0.11} stroke="#000" strokeOpacity={0.12} strokeWidth={2} />
}

function XTitle() {
  return (
    <text x={776} y={1058} textAnchor="middle" fontFamily={serif} fontSize={74} fill="#000">
      Observed log
      <tspan fontSize={100}>(</tspan>
      <tspan>PM</tspan>
      <tspan fontSize={52} dy={14}>2.5</tspan>
      <tspan fontSize={100} dy={-14}>)</tspan>
    </text>
  )
}

function YTitle() {
  return (
    <text x={85} y={450} transform="rotate(-90 85 450)" textAnchor="middle" fontFamily={serif} fontSize={75} fill="#000">
      Simulated data
    </text>
  )
}

export default function App() {
  return (
    <>
      <style>{'body{margin:0}'}</style>
      <ScatterChart width={1350} height={1125} margin={{ top: 38, right: 39, bottom: 0, left: 0 }}>
        <XAxis
          type="number"
          dataKey="x"
          domain={[0.468, 5.448]}
          ticks={xTicks}
          allowDataOverflow
          height={262.5}
          axisLine={{ stroke: '#000', strokeWidth: 3 }}
          tickLine={{ stroke: '#333', strokeWidth: 2 }}
          tickSize={19}
          tickMargin={8}
          tick={tickFont}
          label={{ content: XTitle }}
        />
        <YAxis
          type="number"
          dataKey="y"
          domain={[-1.81, 14.93]}
          ticks={yTicks}
          allowDataOverflow
          width={242}
          axisLine={{ stroke: '#000', strokeWidth: 3 }}
          tickLine={{ stroke: '#333', strokeWidth: 2 }}
          tickSize={19}
          tickMargin={14}
          tick={tickFont}
          label={{ content: YTitle }}
        />
        <Scatter data={points} shape={Dot} isAnimationActive={false} />
      </ScatterChart>
    </>
  )
}
